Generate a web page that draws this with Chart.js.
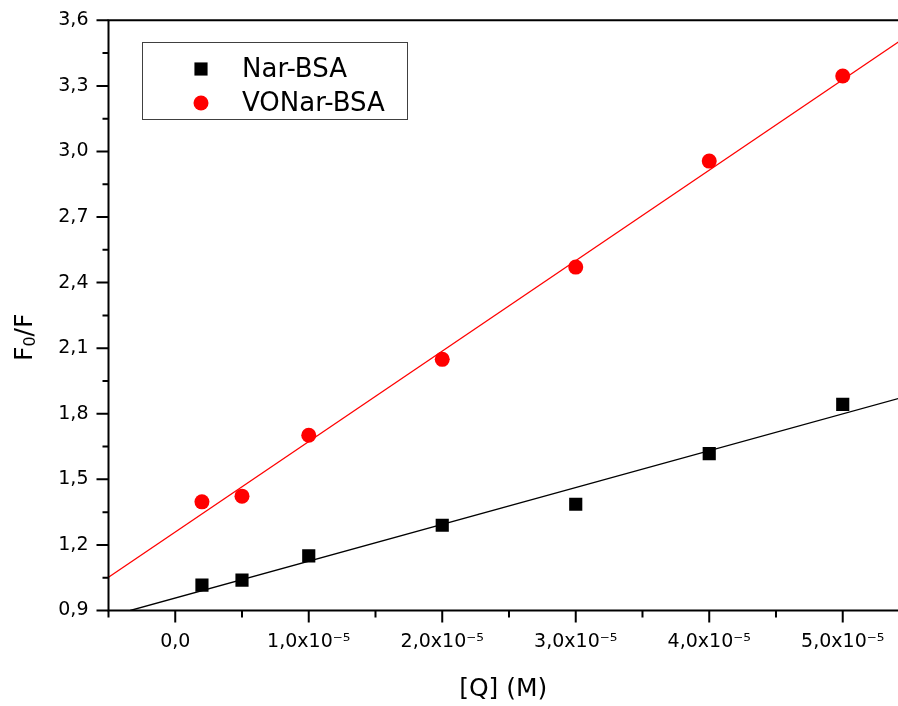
<!DOCTYPE html>
<html>
<head>
<meta charset="utf-8">
<script src="https://cdn.jsdelivr.net/npm/chart.js@4.4.1/dist/chart.umd.min.js"></script>
<style>
  html, body { margin: 0; padding: 0; background: #fff; overflow: hidden; }
  #wrap { width: 898px; height: 706px; }
</style>
</head>
<body>
<div id="wrap"><canvas id="Chart"></canvas></div>
<script>
// [Q] (M) concentrations
const concQ = [0.2e-5, 0.5e-5, 1e-5, 2e-5, 3e-5, 4e-5, 5e-5];
// F0/F values
const narBSA = [1.016, 1.039, 1.150, 1.290, 1.386, 1.618, 1.843];
const voNarBSA = [1.397, 1.423, 1.702, 2.049, 2.471, 2.956, 3.345];

// linear fits, end points
const narFitX = [-0.337e-5, 5.5e-5];
const narFitY = [0.9, 1.884];
const voFitX = [-0.5e-5, 5.5e-5];
const voFitY = [1.052, 3.535];

// axis ticks (the original is cropped on the right, just past 5.4x10-5)
const xMin = -0.5e-5;
const xMax = 5.414e-5;
const xTickVals = [0, 1e-5, 2e-5, 3e-5, 4e-5, 5e-5];
const xTickLabels = ['0,0', '1,0x10⁻⁵', '2,0x10⁻⁵', '3,0x10⁻⁵', '4,0x10⁻⁵', '5,0x10⁻⁵'];
const xMinorVals = [-0.5e-5, 0.5e-5, 1.5e-5, 2.5e-5, 3.5e-5, 4.5e-5];
const yTickVals = [0.9, 1.2, 1.5, 1.8, 2.1, 2.4, 2.7, 3.0, 3.3, 3.6];
const yTickLabels = ['0,9', '1,2', '1,5', '1,8', '2,1', '2,4', '2,7', '3,0', '3,3', '3,6'];
const yMinorVals = [1.05, 1.35, 1.65, 1.95, 2.25, 2.55, 2.85, 3.15, 3.45];

const FONT = 'DejaVu Sans';

function toPts(xs, ys) {
  return xs.map((x, i) => ({x: x, y: ys[i]}));
}

function noPad(scale) {
  scale.paddingLeft = 0;
  scale.paddingRight = 0;
  scale.paddingTop = 0;
  scale.paddingBottom = 0;
}

// axes frame with major/minor outward ticks
const framePlugin = {
  id: 'frame',
  afterDatasetsDraw(chart) {
    const {ctx, chartArea: a, scales: {x, y}} = chart;
    ctx.save();
    ctx.strokeStyle = '#000';
    ctx.lineWidth = 2;
    ctx.beginPath();
    ctx.moveTo(a.right + 2, a.top);
    ctx.lineTo(a.left, a.top);
    ctx.lineTo(a.left, a.bottom);
    ctx.lineTo(a.right + 2, a.bottom);
    ctx.stroke();

    ctx.beginPath();
    xTickVals.forEach(v => {
      const px = x.getPixelForValue(v);
      ctx.moveTo(px, a.bottom); ctx.lineTo(px, a.bottom + 12);
    });
    xMinorVals.forEach(v => {
      const px = x.getPixelForValue(v);
      ctx.moveTo(px, a.bottom); ctx.lineTo(px, a.bottom + 7);
    });
    yTickVals.forEach(v => {
      const py = y.getPixelForValue(v);
      ctx.moveTo(a.left, py); ctx.lineTo(a.left - 12, py);
    });
    yMinorVals.forEach(v => {
      const py = y.getPixelForValue(v);
      ctx.moveTo(a.left, py); ctx.lineTo(a.left - 6, py);
    });
    ctx.stroke();

    // y axis title F0/F with subscript
    ctx.fillStyle = '#000';
    ctx.translate(32, 361);
    ctx.rotate(-Math.PI / 2);
    ctx.textBaseline = 'alphabetic';
    ctx.font = '25px "' + FONT + '"';
    ctx.fillText('F', 0, 0);
    let w = ctx.measureText('F').width;
    ctx.font = '16px "' + FONT + '"';
    ctx.fillText('0', w, 3);
    w += ctx.measureText('0').width;
    ctx.font = '25px "' + FONT + '"';
    ctx.fillText('/F', w, 0);
    ctx.restore();
  }
};

// boxed legend inside the plot
const boxLegend = {
  id: 'boxLegend',
  afterDraw(chart) {
    const ctx = chart.ctx;
    ctx.save();
    ctx.strokeStyle = '#404040';
    ctx.lineWidth = 1;
    ctx.strokeRect(142.5, 42.5, 265, 77);
    ctx.font = '26px "' + FONT + '"';
    ctx.textBaseline = 'middle';
    [0, 1].forEach((i, k) => {
      const ds = chart.data.datasets[i];
      const cy = 69 + k * 34;
      ctx.fillStyle = ds.backgroundColor;
      Chart.helpers.drawPoint(ctx, {
        pointStyle: ds.pointStyle, radius: ds.pointRadius, rotation: 0, borderWidth: 0
      }, 201, cy);
      ctx.fillStyle = '#000';
      ctx.fillText(ds.label, 242, cy + 1);
    });
    ctx.restore();
  }
};

const ctx = document.getElementById('Chart').getContext('2d');

new Chart(ctx, {
  type: 'scatter',
  data: {
    datasets: [{
      label: 'Nar-BSA',
      data: toPts(concQ, narBSA),
      pointStyle: 'rect',
      pointRadius: 9.3,
      backgroundColor: '#000000',
      borderColor: '#000000',
      borderWidth: 0
    }, {
      label: 'VONar-BSA',
      data: toPts(concQ, voNarBSA),
      pointStyle: 'circle',
      pointRadius: 7.5,
      backgroundColor: '#ff0000',
      borderColor: '#ff0000',
      borderWidth: 0
    }, {
      type: 'line',
      label: 'Nar-BSA fit',
      data: toPts(narFitX, narFitY),
      showLine: true,
      borderColor: '#000000',
      borderWidth: 1.3,
      pointRadius: 0,
      fill: false
    }, {
      type: 'line',
      label: 'VONar-BSA fit',
      data: toPts(voFitX, voFitY),
      showLine: true,
      borderColor: '#ff0000',
      borderWidth: 1.3,
      pointRadius: 0,
      fill: false
    }]
  },
  options: {
    responsive: true,
    maintainAspectRatio: false,
    animation: false,
    layout: {autoPadding: false, padding: {top: 20.3, right: 0, left: 0, bottom: 0}},
    plugins: {
      legend: {display: false},
      tooltip: {enabled: false}
    },
    scales: {
      x: {
        type: 'linear',
        min: xMin,
        max: xMax,
        afterBuildTicks: (scale) => { scale.ticks = xTickVals.map(v => ({value: v})); },
        afterFit: (scale) => { scale.height = 95.5; noPad(scale); },
        ticks: {
          callback: (v, i) => xTickLabels[i],
          font: {family: FONT, size: 19},
          color: '#000',
          padding: 20,
          maxRotation: 0,
          autoSkip: false
        },
        grid: {display: false, drawTicks: false},
        border: {display: false},
        title: {
          display: true,
          text: '[Q] (M)',
          font: {family: FONT, size: 25},
          color: '#000',
          padding: {top: 0, bottom: 2}
        }
      },
      y: {
        type: 'linear',
        min: 0.9,
        max: 3.6,
        afterBuildTicks: (scale) => { scale.ticks = yTickVals.map(v => ({value: v})); },
        afterFit: (scale) => { scale.width = 108.5; noPad(scale); },
        ticks: {
          callback: (v, i) => yTickLabels[i],
          font: {family: FONT, size: 19},
          color: '#000',
          padding: 20,
          autoSkip: false
        },
        grid: {display: false, drawTicks: false},
        border: {display: false}
      }
    }
  },
  plugins: [framePlugin, boxLegend]
});
</script>
</body>
</html>
